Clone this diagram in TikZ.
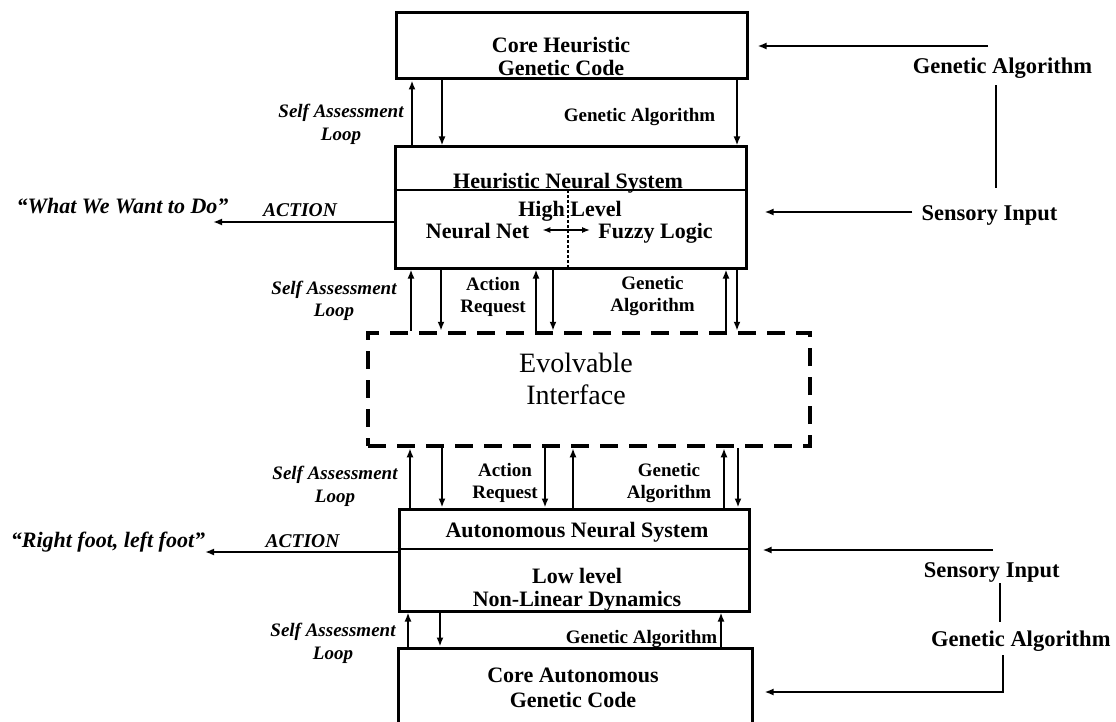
\documentclass[tikz,border=0pt]{standalone}
\usepackage{fontspec}
\setmainfont{Liberation Serif}
\usetikzlibrary{arrows.meta,calc}
\begin{document}
\begin{tikzpicture}[x=1pt,y=-1pt,
  blk/.style={draw, line width=3pt, inner sep=0pt},
  dbox/.style={draw, line width=4.5pt, dash pattern=on 18pt off 11pt, inner sep=0pt},
  arr/.style={line width=2pt, -{Latex[length=9pt,width=7pt]}},
  plain/.style={line width=2.2pt},
  bt/.style={font=\fontsize{22}{26}\selectfont\bfseries, inner sep=1pt, anchor=base},
  ev/.style={font=\fontsize{28}{34}\selectfont, inner sep=1pt, anchor=base},
  lbl/.style={font=\fontsize{19}{22}\selectfont\bfseries, align=center, inner sep=1pt},
  sal/.style={font=\fontsize{19}{22.5}\selectfont\bfseries\itshape, align=center, inner sep=1pt},
  rl/.style={font=\fontsize{22.5}{27}\selectfont\bfseries, inner sep=1pt, anchor=base},
  act/.style={font=\fontsize{19.5}{23}\selectfont\bfseries\itshape, inner sep=1pt, anchor=base},
  quo/.style={font=\fontsize{22}{26}\selectfont\bfseries\itshape, inner sep=1pt, anchor=base}]
\useasboundingbox (0,0) rectangle (1116,722);
\clip (0,0) rectangle (1116,722);

% ---------- boxes ----------
\node[blk, minimum width=351, minimum height=66] (b1) at (571.5,46) {};
\node[blk, minimum width=351, minimum height=121] (b2) at (570.5,207.5) {};
\node[dbox, minimum width=442, minimum height=113] (ev) at (589,389.5) {};
\node[blk, minimum width=350, minimum height=102] (b3) at (574,560) {};
\node[blk, minimum width=354, minimum height=97] (b4) at (575,696.5) {};

% ---------- box texts ----------
\node[bt] (t1a) at (561,53) {Core Heuristic};
\node[bt] (t1b) at (561,76) {Genetic Code};
\node[bt] (t2a) at (568,189) {Heuristic Neural System};
\node[bt] (t2b) at (570,216) {High Level};
\node[bt] (nn) at (477.5,238) {Neural Net};
\node[bt] (fl) at (655.5,238) {Fuzzy Logic};
\node[ev] (e1) at (576,372) {Evolvable};
\node[ev] (e2) at (576,404) {Interface};
\node[bt] (t3a) at (577,537) {Autonomous Neural System};
\node[bt] (t3b) at (577,583) {Low level};
\node[bt] (t3c) at (577,606) {Non-Linear Dynamics};
\node[bt] (t4a) at (573,682) {Core Autonomous};
\node[bt] (t4b) at (573,707) {Genetic Code};

% dividers
\coordinate (dv2) at (0,190);
\coordinate (dv3) at (0,549);
\draw[line width=2.5pt] (b2.west |- dv2) -- (b2.east |- dv2);
\draw[line width=2.5pt] (b3.west |- dv3) -- (b3.east |- dv3);
\coordinate (dl) at (568,0);
\draw[line width=1.5pt, dash pattern=on 3pt off 2pt] (dl |- dv2) -- (dl |- b2.south);
\coordinate (dy) at (0,230);
\draw[line width=1.6pt, {Latex[length=8pt,width=6pt]}-{Latex[length=8pt,width=6pt]},
  shorten <=12pt, shorten >=7pt] (nn.east |- dy) -- (fl.west |- dy);

% ---------- vertical arrows ----------
\foreach \n/\x in {p1/412,p2/442,p3/737,q1/411,q2/441,q3/536,q4/553,q5/726,q6/737,
  r1/410,r2/442,r3/545,r4/573,r5/724,r6/738,s1/408,s2/440,s3/721}
  \coordinate (\n) at (\x,0);
\draw[arr] (p1 |- b2.north) -- (p1 |- b1.south);
\draw[arr] (p2 |- b1.south) -- (p2 |- b2.north);
\draw[arr] (p3 |- b1.south) -- (p3 |- b2.north);
\draw[arr] (q1 |- ev.north) -- (q1 |- b2.south);
\draw[arr] (q2 |- b2.south) -- (q2 |- ev.north);
\draw[arr] (q3 |- ev.north) -- (q3 |- b2.south);
\draw[arr] (q4 |- b2.south) -- (q4 |- ev.north);
\draw[arr] (q5 |- ev.north) -- (q5 |- b2.south);
\draw[arr] (q6 |- b2.south) -- (q6 |- ev.north);
\draw[arr] (r1 |- b3.north) -- (r1 |- ev.south);
\draw[arr] (r2 |- ev.south) -- (r2 |- b3.north);
\draw[arr] (r3 |- ev.south) -- (r3 |- b3.north);
\draw[arr] (r4 |- b3.north) -- (r4 |- ev.south);
\draw[arr] (r5 |- b3.north) -- (r5 |- ev.south);
\draw[arr] (r6 |- ev.south) -- (r6 |- b3.north);
\draw[arr] (s1 |- b4.north) -- (s1 |- b3.south);
\draw[arr] (s2 |- b3.south) -- (s2 |- b4.north);
\draw[arr] (s3 |- b4.north) -- (s3 |- b3.south);

% ---------- labels between boxes ----------
\node[sal] (sal1) at (341,124.5) {Self Assessment\\Loop};
\node[lbl, anchor=base] (ga1) at (639.5,122) {Genetic Algorithm};
\node[sal] (sal2) at (334,301) {Self Assessment\\Loop};
\node[lbl] (ar1) at (493,296.5) {Action\\Request};
\node[lbl] (ga2) at (652.5,296.5) {Genetic\\Algorithm};
\node[sal] (sal3) at (335,486.5) {Self Assessment\\Loop};
\node[lbl] (ar2) at (505,483) {Action\\Request};
\node[lbl] (ga3) at (669,483) {Genetic\\Algorithm};
\node[sal] (sal4) at (333,643.5) {Self Assessment\\Loop};
\node[lbl, anchor=base] (ga4) at (641.5,643) {Genetic Algorithm};

% ---------- left side ----------
\coordinate (ay1) at (0,222);
\coordinate (tip1) at (213,222);
\draw[arr] (b2.west |- ay1) -- (tip1);
\node[act] (act1) at (300,217) {ACTION};
\node[quo] (q1t) at (122.5,214) {“What We Want to Do”};
\coordinate (ay2) at (0,552);
\coordinate (tip2) at (205,552);
\draw[arr] (b3.west |- ay2) -- (tip2);
\node[act] (act2) at (302.5,547) {ACTION};
\node[quo] (q2t) at (108,547) {“Right foot, left foot”};

% ---------- right side ----------
\node[rl] (gaR1) at (1002.5,74) {Genetic Algorithm};
\node[rl] (siR1) at (989.5,220) {Sensory Input};
\node[rl] (siR2) at (991.7,577) {Sensory Input};
\node[rl] (gaR2) at (1020.8,646) {Genetic Algorithm};
\coordinate (ta) at (988,46);
\draw[arr, line width=2.2pt, shorten >=9pt] (ta) -- (b1.east |- ta);
\coordinate (v1) at (996,0);
\draw[plain, shorten <=5pt, shorten >=16pt] (gaR1.south -| v1) -- (siR1.north -| v1);
\coordinate (sy1) at (0,212);
\draw[arr, line width=2.2pt, shorten <=8pt, shorten >=17pt] (siR1.west |- sy1) -- (b2.east |- sy1);
\coordinate (tb) at (993,550);
\draw[arr, line width=2.2pt, shorten >=12pt] (tb) -- (b3.east |- tb);
\coordinate (v2) at (1000,0);
\draw[plain, shorten >=7pt] (siR2.south -| v2) -- (gaR2.north -| v2);
\coordinate (v3) at (1003,0);
\coordinate (gy) at (0,692);
\draw[arr, line width=2.2pt, shorten <=3pt, shorten >=11pt] (gaR2.south -| v3) -- (v3 |- gy) -- (b4.east |- gy);
\end{tikzpicture}
\end{document}
